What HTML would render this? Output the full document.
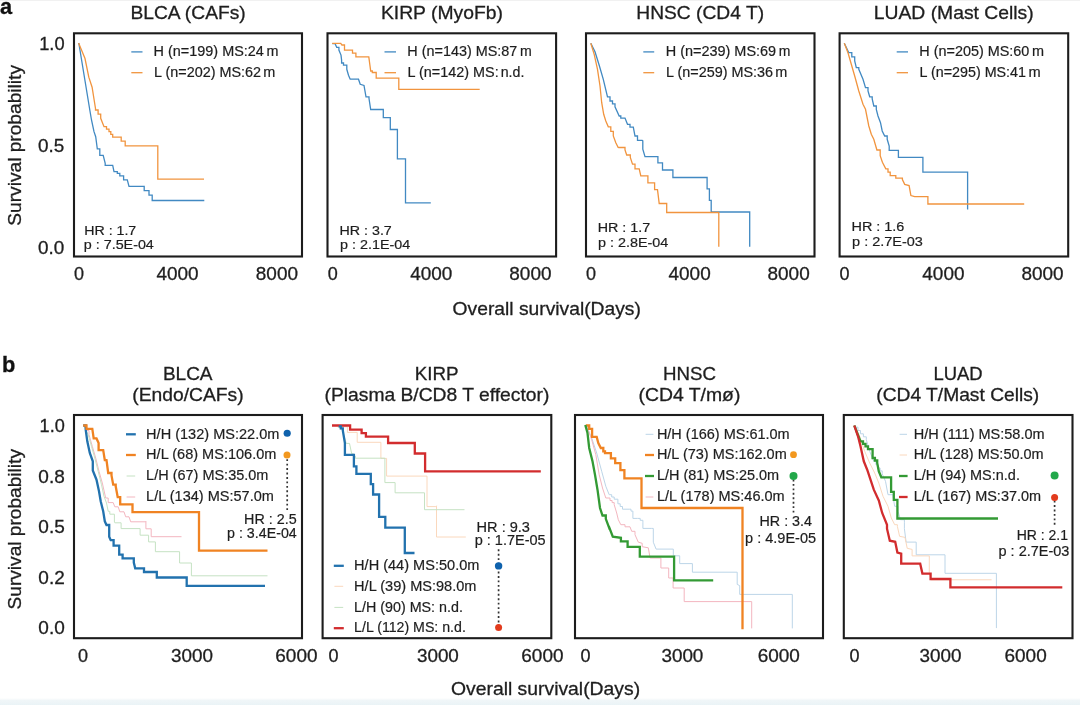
<!DOCTYPE html>
<html lang="en"><head><meta charset="utf-8"><title>Survival curves</title>
<style>
html,body{margin:0;padding:0;background:#fff}
body{width:1080px;height:705px;overflow:hidden}
svg{display:block;font-family:"Liberation Sans",Arial,Helvetica,sans-serif}
</style></head><body>
<svg width="1080" height="705" viewBox="0 0 1080 705">
<defs><linearGradient id="bg" x1="0" y1="0" x2="0" y2="1"><stop offset="0" stop-color="#ffffff"/><stop offset="0.35" stop-color="#f0f6f8"/><stop offset="1" stop-color="#eaf3f6"/></linearGradient></defs>
<rect x="0" y="0" width="1080" height="705" fill="#ffffff"/>
<rect x="0" y="0" width="1080" height="1" fill="#f1f1f1"/>
<rect x="0" y="698" width="1080" height="7" fill="url(#bg)"/>
<text x="0.10" y="13.60" font-size="21.50" textLength="12.11" lengthAdjust="spacingAndGlyphs" fill="#111" stroke="#111" stroke-width="0.3" font-weight="700">a</text>
<text x="2.10" y="372.00" font-size="21.50" textLength="13.32" lengthAdjust="spacingAndGlyphs" fill="#111" stroke="#111" stroke-width="0.3" font-weight="700">b</text>
<rect x="74.00" y="33.30" width="228.00" height="223.20" fill="none" stroke="#1c1c1c" stroke-width="2.1"/>
<rect x="327.50" y="33.30" width="228.60" height="223.20" fill="none" stroke="#1c1c1c" stroke-width="2.1"/>
<rect x="586.00" y="33.30" width="228.50" height="223.20" fill="none" stroke="#1c1c1c" stroke-width="2.1"/>
<rect x="839.60" y="33.30" width="228.60" height="223.20" fill="none" stroke="#1c1c1c" stroke-width="2.1"/>
<text x="130.40" y="18.60" font-size="18.60" textLength="115.32" lengthAdjust="spacingAndGlyphs" fill="#1e1e1e" stroke="#1e1e1e" stroke-width="0.3">BLCA (CAFs)</text>
<text x="380.90" y="18.60" font-size="18.60" textLength="122.02" lengthAdjust="spacingAndGlyphs" fill="#1e1e1e" stroke="#1e1e1e" stroke-width="0.3">KIRP (MyoFb)</text>
<text x="636.30" y="18.60" font-size="18.60" textLength="127.77" lengthAdjust="spacingAndGlyphs" fill="#1e1e1e" stroke="#1e1e1e" stroke-width="0.3">HNSC (CD4 T)</text>
<text x="873.80" y="18.60" font-size="18.60" textLength="159.88" lengthAdjust="spacingAndGlyphs" fill="#1e1e1e" stroke="#1e1e1e" stroke-width="0.3">LUAD (Mast Cells)</text>
<text x="74.00" y="280.00" font-size="18.60" textLength="10.02" lengthAdjust="spacingAndGlyphs" fill="#1e1e1e" stroke="#1e1e1e" stroke-width="0.3">0</text>
<text x="156.40" y="280.00" font-size="18.60" textLength="42.19" lengthAdjust="spacingAndGlyphs" fill="#1e1e1e" stroke="#1e1e1e" stroke-width="0.3">4000</text>
<text x="255.80" y="280.00" font-size="18.60" textLength="42.19" lengthAdjust="spacingAndGlyphs" fill="#1e1e1e" stroke="#1e1e1e" stroke-width="0.3">8000</text>
<text x="327.75" y="280.00" font-size="18.60" textLength="10.02" lengthAdjust="spacingAndGlyphs" fill="#1e1e1e" stroke="#1e1e1e" stroke-width="0.3">0</text>
<text x="410.15" y="280.00" font-size="18.60" textLength="42.19" lengthAdjust="spacingAndGlyphs" fill="#1e1e1e" stroke="#1e1e1e" stroke-width="0.3">4000</text>
<text x="509.30" y="280.00" font-size="18.60" textLength="42.19" lengthAdjust="spacingAndGlyphs" fill="#1e1e1e" stroke="#1e1e1e" stroke-width="0.3">8000</text>
<text x="585.90" y="280.00" font-size="18.60" textLength="10.02" lengthAdjust="spacingAndGlyphs" fill="#1e1e1e" stroke="#1e1e1e" stroke-width="0.3">0</text>
<text x="668.50" y="280.00" font-size="18.60" textLength="42.19" lengthAdjust="spacingAndGlyphs" fill="#1e1e1e" stroke="#1e1e1e" stroke-width="0.3">4000</text>
<text x="767.50" y="280.00" font-size="18.60" textLength="42.19" lengthAdjust="spacingAndGlyphs" fill="#1e1e1e" stroke="#1e1e1e" stroke-width="0.3">8000</text>
<text x="839.60" y="280.00" font-size="18.60" textLength="10.02" lengthAdjust="spacingAndGlyphs" fill="#1e1e1e" stroke="#1e1e1e" stroke-width="0.3">0</text>
<text x="922.30" y="280.00" font-size="18.60" textLength="42.19" lengthAdjust="spacingAndGlyphs" fill="#1e1e1e" stroke="#1e1e1e" stroke-width="0.3">4000</text>
<text x="1021.40" y="280.00" font-size="18.60" textLength="42.19" lengthAdjust="spacingAndGlyphs" fill="#1e1e1e" stroke="#1e1e1e" stroke-width="0.3">8000</text>
<text x="39.20" y="50.00" font-size="18.60" textLength="25.40" lengthAdjust="spacingAndGlyphs" fill="#1e1e1e" stroke="#1e1e1e" stroke-width="0.3">1.0</text>
<text x="38.10" y="151.90" font-size="18.60" textLength="26.30" lengthAdjust="spacingAndGlyphs" fill="#1e1e1e" stroke="#1e1e1e" stroke-width="0.3">0.5</text>
<text x="38.10" y="253.80" font-size="18.60" textLength="26.30" lengthAdjust="spacingAndGlyphs" fill="#1e1e1e" stroke="#1e1e1e" stroke-width="0.3">0.0</text>
<text x="21.50" y="225.70" font-size="18.60" textLength="160.66" lengthAdjust="spacingAndGlyphs" fill="#1e1e1e" stroke="#1e1e1e" stroke-width="0.3" transform="rotate(-90 21.50 225.70)">Survival probability</text>
<text x="21.40" y="609.40" font-size="18.60" textLength="160.36" lengthAdjust="spacingAndGlyphs" fill="#1e1e1e" stroke="#1e1e1e" stroke-width="0.3" transform="rotate(-90 21.40 609.40)">Survival probability</text>
<text x="452.60" y="315.00" font-size="18.60" textLength="188.29" lengthAdjust="spacingAndGlyphs" fill="#1e1e1e" stroke="#1e1e1e" stroke-width="0.3">Overall survival(Days)</text>
<text x="451.00" y="695.30" font-size="18.60" textLength="189.09" lengthAdjust="spacingAndGlyphs" fill="#1e1e1e" stroke="#1e1e1e" stroke-width="0.3">Overall survival(Days)</text>
<path d="M131.3 51.9 L142.5 51.9" fill="none" stroke="#4189c2" stroke-width="1.3" stroke-linejoin="miter" stroke-miterlimit="2" />
<path d="M131.3 72.7 L142.5 72.7" fill="none" stroke="#f1943e" stroke-width="1.3" stroke-linejoin="miter" stroke-miterlimit="2" />
<text y="56.35" font-size="14.20" fill="#1e1e1e" stroke="#1e1e1e" stroke-width="0.2"><tspan x="153.60" textLength="110.27" lengthAdjust="spacingAndGlyphs">H (n=199) MS:24</tspan> <tspan x="266.50" textLength="11.97" lengthAdjust="spacingAndGlyphs">m</tspan></text>
<text y="77.10" font-size="14.20" fill="#1e1e1e" stroke="#1e1e1e" stroke-width="0.2"><tspan x="154.00" textLength="107.00" lengthAdjust="spacingAndGlyphs">L (n=202) MS:62</tspan> <tspan x="263.35" textLength="12.02" lengthAdjust="spacingAndGlyphs">m</tspan></text>
<path d="M384.5 51.9 L396.0 51.9" fill="none" stroke="#4189c2" stroke-width="1.3" stroke-linejoin="miter" stroke-miterlimit="2" />
<path d="M384.5 72.7 L396.0 72.7" fill="none" stroke="#f1943e" stroke-width="1.3" stroke-linejoin="miter" stroke-miterlimit="2" />
<text y="56.35" font-size="14.20" fill="#1e1e1e" stroke="#1e1e1e" stroke-width="0.2"><tspan x="407.35" textLength="110.02" lengthAdjust="spacingAndGlyphs">H (n=143) MS:87</tspan> <tspan x="520.10" textLength="11.77" lengthAdjust="spacingAndGlyphs">m</tspan></text>
<text y="77.10" font-size="14.20" fill="#1e1e1e" stroke="#1e1e1e" stroke-width="0.2"><tspan x="407.60" textLength="91.08" lengthAdjust="spacingAndGlyphs">L (n=142) MS:</tspan> <tspan x="500.70" textLength="23.67" lengthAdjust="spacingAndGlyphs">n.d.</tspan></text>
<path d="M643.3 51.9 L654.2 51.9" fill="none" stroke="#4189c2" stroke-width="1.3" stroke-linejoin="miter" stroke-miterlimit="2" />
<path d="M643.3 72.7 L654.2 72.7" fill="none" stroke="#f1943e" stroke-width="1.3" stroke-linejoin="miter" stroke-miterlimit="2" />
<text y="56.35" font-size="14.20" fill="#1e1e1e" stroke="#1e1e1e" stroke-width="0.2"><tspan x="665.70" textLength="110.42" lengthAdjust="spacingAndGlyphs">H (n=239) MS:69</tspan> <tspan x="778.85" textLength="11.62" lengthAdjust="spacingAndGlyphs">m</tspan></text>
<text y="77.10" font-size="14.20" fill="#1e1e1e" stroke="#1e1e1e" stroke-width="0.2"><tspan x="666.00" textLength="107.00" lengthAdjust="spacingAndGlyphs">L (n=259) MS:36</tspan> <tspan x="775.35" textLength="12.02" lengthAdjust="spacingAndGlyphs">m</tspan></text>
<path d="M896.7 51.9 L908.0 51.9" fill="none" stroke="#4189c2" stroke-width="1.3" stroke-linejoin="miter" stroke-miterlimit="2" />
<path d="M896.7 72.7 L908.0 72.7" fill="none" stroke="#f1943e" stroke-width="1.3" stroke-linejoin="miter" stroke-miterlimit="2" />
<text y="56.35" font-size="14.20" fill="#1e1e1e" stroke="#1e1e1e" stroke-width="0.2"><tspan x="919.35" textLength="110.02" lengthAdjust="spacingAndGlyphs">H (n=205) MS:60</tspan> <tspan x="1032.10" textLength="12.02" lengthAdjust="spacingAndGlyphs">m</tspan></text>
<text y="77.10" font-size="14.20" fill="#1e1e1e" stroke="#1e1e1e" stroke-width="0.2"><tspan x="919.60" textLength="106.40" lengthAdjust="spacingAndGlyphs">L (n=295) MS:41</tspan> <tspan x="1028.60" textLength="12.17" lengthAdjust="spacingAndGlyphs">m</tspan></text>
<text x="84.20" y="235.40" font-size="13.40" textLength="52.07" lengthAdjust="spacingAndGlyphs" fill="#1e1e1e" stroke="#1e1e1e" stroke-width="0.2">HR : 1.7</text>
<text x="83.85" y="249.00" font-size="13.40" textLength="69.98" lengthAdjust="spacingAndGlyphs" fill="#1e1e1e" stroke="#1e1e1e" stroke-width="0.2">p : 7.5E-04</text>
<text x="339.50" y="235.00" font-size="13.40" textLength="52.27" lengthAdjust="spacingAndGlyphs" fill="#1e1e1e" stroke="#1e1e1e" stroke-width="0.2">HR : 3.7</text>
<text x="340.10" y="249.40" font-size="13.40" textLength="70.08" lengthAdjust="spacingAndGlyphs" fill="#1e1e1e" stroke="#1e1e1e" stroke-width="0.2">p : 2.1E-04</text>
<text x="597.70" y="231.50" font-size="13.40" textLength="52.42" lengthAdjust="spacingAndGlyphs" fill="#1e1e1e" stroke="#1e1e1e" stroke-width="0.2">HR : 1.7</text>
<text x="598.10" y="247.10" font-size="13.40" textLength="70.23" lengthAdjust="spacingAndGlyphs" fill="#1e1e1e" stroke="#1e1e1e" stroke-width="0.2">p : 2.8E-04</text>
<text x="851.50" y="231.25" font-size="13.40" textLength="52.87" lengthAdjust="spacingAndGlyphs" fill="#1e1e1e" stroke="#1e1e1e" stroke-width="0.2">HR : 1.6</text>
<text x="852.10" y="246.25" font-size="13.40" textLength="70.83" lengthAdjust="spacingAndGlyphs" fill="#1e1e1e" stroke="#1e1e1e" stroke-width="0.2">p : 2.7E-03</text>
<path d="M78.8 43.0 L89.8 110.0 L91.5 120.0 L94.0 131.7 L95.7 136.7 L97.3 148.8 L99.8 148.8 L99.8 155.4 L103.2 155.4 L105.2 163.3 L105.2 165.3 L112.7 165.3 L114.0 171.7 L117.3 171.7 L117.3 173.3 L119.8 173.3 L119.8 175.8 L123.6 175.8 L123.6 177.5 L123.6 179.8 L127.3 179.8 L129.0 186.3 L144.2 186.3 L144.2 190.7 L149.0 190.7 L149.0 195.2 L152.2 195.2 L152.2 200.5 L204.3 200.5" fill="none" stroke="#4189c2" stroke-width="1.3" stroke-linejoin="miter" stroke-miterlimit="2" />
<path d="M332.3 43.6 L335.0 43.6 L336.7 47.3 L338.9 47.3 L338.9 50.1 L341.0 55.1 L341.6 60.1 L341.6 63.0 L343.5 63.0 L343.5 65.2 L346.8 65.2 L346.8 69.3 L348.5 75.2 L350.2 79.2 L358.5 79.2 L360.2 84.3 L364.0 85.5 L366.0 96.8 L369.0 96.8 L369.0 98.5 L370.7 109.5 L383.3 109.5 L383.3 117.7 L390.3 117.7 L390.3 129.5 L397.4 129.5 L397.4 158.8 L405.5 158.8 L405.5 202.8 L430.8 202.8" fill="none" stroke="#4189c2" stroke-width="1.3" stroke-linejoin="miter" stroke-miterlimit="2" />
<path d="M590.8 43.2 L595.0 51.8 L599.2 65.2 L603.3 79.3 L607.5 96.8 L610.0 96.8 L610.0 101.0 L612.5 101.0 L612.5 103.9 L615.0 103.9 L615.0 106.8 L619.2 116.0 L620.8 116.0 L620.8 118.1 L625.0 118.1 L627.5 124.3 L630.0 124.3 L630.0 127.2 L633.3 127.2 L635.0 136.0 L637.5 136.0 L637.5 140.4 L642.2 140.4 L642.8 140.8 L642.8 149.2 L645.0 156.7 L657.9 156.7 L657.9 162.8 L662.5 162.8 L662.5 170.0 L672.9 170.0 L672.9 177.5 L707.1 177.5 L707.1 188.8 L709.4 188.8 L709.4 200.4 L711.2 200.4 L711.2 212.0 L749.7 212.0 L749.7 246.7" fill="none" stroke="#4189c2" stroke-width="1.3" stroke-linejoin="miter" stroke-miterlimit="2" />
<path d="M844.3 43.2 L848.8 52.7 L851.8 52.7 L851.8 56.8 L854.7 56.8 L854.7 61.0 L856.3 67.7 L858.8 67.7 L858.8 69.3 L863.0 79.3 L865.5 87.7 L868.0 87.7 L868.0 91.0 L869.7 96.8 L872.2 96.8 L872.2 99.0 L873.8 106.0 L876.3 106.0 L876.3 109.3 L878.0 116.0 L880.5 122.7 L882.2 131.0 L884.7 136.0 L887.2 136.0 L887.2 139.3 L889.2 146.0 L889.2 150.4 L898.4 150.4 L898.4 157.3 L922.9 157.3 L922.9 172.2 L967.6 172.2 L967.6 209.6" fill="none" stroke="#4189c2" stroke-width="1.3" stroke-linejoin="miter" stroke-miterlimit="2" />
<path d="M78.6 42.9 L85.0 58.5 L88.8 77.2 L92.1 87.2 L95.5 108.5 L95.5 110.0 L98.1 110.0 L98.1 114.2 L100.7 114.2 L100.7 118.3 L104.0 126.7 L106.5 126.7 L106.5 129.2 L109.0 129.2 L109.0 131.7 L110.8 131.7 L110.8 134.4 L112.7 134.4 L112.7 137.2 L121.2 137.2 L121.2 141.2 L125.2 141.2 L125.2 145.8 L157.8 145.8 L157.8 179.2 L204.0 179.2" fill="none" stroke="#f1943e" stroke-width="1.3" stroke-linejoin="miter" stroke-miterlimit="2" />
<path d="M332.2 43.4 L340.8 43.4 L341.9 45.0 L344.5 45.0 L344.5 50.2 L352.5 50.2 L352.5 53.1 L355.9 53.1 L355.9 56.8 L368.8 56.8 L370.7 71.0 L372.3 71.0 L372.3 72.5 L376.2 72.5 L376.2 78.2 L398.8 78.2 L398.8 89.3 L479.7 89.3" fill="none" stroke="#f1943e" stroke-width="1.3" stroke-linejoin="miter" stroke-miterlimit="2" />
<path d="M590.8 43.2 L594.2 54.3 L597.5 69.3 L600.0 86.0 L601.7 102.7 L603.7 114.3 L605.8 121.0 L608.3 126.8 L610.8 126.8 L610.8 131.4 L613.3 131.4 L613.3 136.0 L615.8 142.7 L618.3 147.7 L618.3 147.5 L625.0 147.5 L625.0 150.0 L626.7 155.0 L630.3 155.0 L630.3 157.5 L632.5 164.2 L635.0 164.2 L635.0 168.8 L639.2 168.8 L640.8 175.9 L647.9 175.9 L647.9 182.8 L654.6 182.8 L654.6 189.6 L657.5 189.6 L659.2 203.5 L666.7 203.5 L666.7 212.5 L718.8 212.5 L718.8 246.7" fill="none" stroke="#f1943e" stroke-width="1.3" stroke-linejoin="miter" stroke-miterlimit="2" />
<path d="M844.3 43.2 L848.0 52.7 L851.3 64.3 L854.7 76.0 L858.8 91.0 L863.0 104.3 L865.5 109.3 L868.8 126.0 L871.3 134.3 L873.8 139.3 L876.9 150.0 L880.2 150.0 L880.2 155.6 L882.4 162.2 L885.8 168.9 L888.0 168.9 L888.0 172.2 L890.2 172.2 L890.2 175.6 L895.8 175.6 L895.8 178.2 L902.4 178.2 L902.4 179.6 L904.7 184.4 L909.1 185.6 L910.9 195.6 L914.7 196.7 L927.9 196.7 L927.9 204.0 L1024.2 204.0" fill="none" stroke="#f1943e" stroke-width="1.3" stroke-linejoin="miter" stroke-miterlimit="2" />
<rect x="74.00" y="415.00" width="228.00" height="223.20" fill="none" stroke="#1c1c1c" stroke-width="2.1"/>
<rect x="322.60" y="415.00" width="228.70" height="223.20" fill="none" stroke="#1c1c1c" stroke-width="2.1"/>
<rect x="575.00" y="415.00" width="248.00" height="223.20" fill="none" stroke="#1c1c1c" stroke-width="2.1"/>
<rect x="843.80" y="415.00" width="228.70" height="223.20" fill="none" stroke="#1c1c1c" stroke-width="2.1"/>
<text x="162.90" y="379.70" font-size="18.60" textLength="49.65" lengthAdjust="spacingAndGlyphs" fill="#1e1e1e" stroke="#1e1e1e" stroke-width="0.3">BLCA</text>
<text x="132.30" y="400.80" font-size="18.60" textLength="111.39" lengthAdjust="spacingAndGlyphs" fill="#1e1e1e" stroke="#1e1e1e" stroke-width="0.3">(Endo/CAFs)</text>
<text x="414.70" y="379.70" font-size="18.60" textLength="43.88" lengthAdjust="spacingAndGlyphs" fill="#1e1e1e" stroke="#1e1e1e" stroke-width="0.3">KIRP</text>
<text x="324.50" y="400.80" font-size="18.60" textLength="224.82" lengthAdjust="spacingAndGlyphs" fill="#1e1e1e" stroke="#1e1e1e" stroke-width="0.3">(Plasma B/CD8 T effector)</text>
<text x="662.90" y="379.70" font-size="18.60" textLength="53.07" lengthAdjust="spacingAndGlyphs" fill="#1e1e1e" stroke="#1e1e1e" stroke-width="0.3">HNSC</text>
<text x="638.50" y="400.80" font-size="18.60" textLength="101.88" lengthAdjust="spacingAndGlyphs" fill="#1e1e1e" stroke="#1e1e1e" stroke-width="0.3">(CD4 T/mø)</text>
<text x="933.40" y="379.70" font-size="18.60" textLength="49.16" lengthAdjust="spacingAndGlyphs" fill="#1e1e1e" stroke="#1e1e1e" stroke-width="0.3">LUAD</text>
<text x="876.30" y="400.80" font-size="18.60" textLength="162.95" lengthAdjust="spacingAndGlyphs" fill="#1e1e1e" stroke="#1e1e1e" stroke-width="0.3">(CD4 T/Mast Cells)</text>
<text x="78.10" y="662.20" font-size="18.60" textLength="10.02" lengthAdjust="spacingAndGlyphs" fill="#1e1e1e" stroke="#1e1e1e" stroke-width="0.3">0</text>
<text x="171.10" y="662.20" font-size="18.60" textLength="41.99" lengthAdjust="spacingAndGlyphs" fill="#1e1e1e" stroke="#1e1e1e" stroke-width="0.3">3000</text>
<text x="275.30" y="662.20" font-size="18.60" textLength="42.19" lengthAdjust="spacingAndGlyphs" fill="#1e1e1e" stroke="#1e1e1e" stroke-width="0.3">6000</text>
<text x="328.40" y="662.20" font-size="18.60" textLength="10.02" lengthAdjust="spacingAndGlyphs" fill="#1e1e1e" stroke="#1e1e1e" stroke-width="0.3">0</text>
<text x="416.90" y="662.20" font-size="18.60" textLength="41.99" lengthAdjust="spacingAndGlyphs" fill="#1e1e1e" stroke="#1e1e1e" stroke-width="0.3">3000</text>
<text x="521.30" y="662.20" font-size="18.60" textLength="42.19" lengthAdjust="spacingAndGlyphs" fill="#1e1e1e" stroke="#1e1e1e" stroke-width="0.3">6000</text>
<text x="580.40" y="662.20" font-size="18.60" textLength="10.02" lengthAdjust="spacingAndGlyphs" fill="#1e1e1e" stroke="#1e1e1e" stroke-width="0.3">0</text>
<text x="661.40" y="662.20" font-size="18.60" textLength="41.99" lengthAdjust="spacingAndGlyphs" fill="#1e1e1e" stroke="#1e1e1e" stroke-width="0.3">3000</text>
<text x="757.65" y="662.20" font-size="18.60" textLength="42.19" lengthAdjust="spacingAndGlyphs" fill="#1e1e1e" stroke="#1e1e1e" stroke-width="0.3">6000</text>
<text x="849.60" y="662.20" font-size="18.60" textLength="10.02" lengthAdjust="spacingAndGlyphs" fill="#1e1e1e" stroke="#1e1e1e" stroke-width="0.3">0</text>
<text x="919.60" y="662.20" font-size="18.60" textLength="41.99" lengthAdjust="spacingAndGlyphs" fill="#1e1e1e" stroke="#1e1e1e" stroke-width="0.3">3000</text>
<text x="1004.50" y="662.20" font-size="18.60" textLength="42.19" lengthAdjust="spacingAndGlyphs" fill="#1e1e1e" stroke="#1e1e1e" stroke-width="0.3">6000</text>
<text x="39.60" y="431.90" font-size="18.60" textLength="25.20" lengthAdjust="spacingAndGlyphs" fill="#1e1e1e" stroke="#1e1e1e" stroke-width="0.3">1.0</text>
<text x="38.35" y="482.50" font-size="18.60" textLength="26.45" lengthAdjust="spacingAndGlyphs" fill="#1e1e1e" stroke="#1e1e1e" stroke-width="0.3">0.8</text>
<text x="38.35" y="533.10" font-size="18.60" textLength="26.45" lengthAdjust="spacingAndGlyphs" fill="#1e1e1e" stroke="#1e1e1e" stroke-width="0.3">0.5</text>
<text x="38.35" y="583.70" font-size="18.60" textLength="26.45" lengthAdjust="spacingAndGlyphs" fill="#1e1e1e" stroke="#1e1e1e" stroke-width="0.3">0.2</text>
<text x="38.35" y="634.30" font-size="18.60" textLength="26.45" lengthAdjust="spacingAndGlyphs" fill="#1e1e1e" stroke="#1e1e1e" stroke-width="0.3">0.0</text>
<path d="M126.0 434.3 L135.8 434.3" fill="none" stroke="#2272ae" stroke-width="2.3" stroke-linejoin="miter" stroke-miterlimit="2" />
<text x="146.10" y="438.55" font-size="14.40" textLength="133.30" lengthAdjust="spacingAndGlyphs" fill="#1e1e1e" stroke="#1e1e1e" stroke-width="0.2">H/H (132) MS:22.0m</text>
<path d="M126.0 455.0 L135.8 455.0" fill="none" stroke="#f08322" stroke-width="2.3" stroke-linejoin="miter" stroke-miterlimit="2" />
<text x="146.10" y="459.25" font-size="14.40" textLength="130.32" lengthAdjust="spacingAndGlyphs" fill="#1e1e1e" stroke="#1e1e1e" stroke-width="0.2">H/L (68) MS:106.0m</text>
<path d="M126.6 476.0 L135.2 476.0" fill="none" stroke="#c5e2c3" stroke-width="1.0" stroke-linejoin="miter" stroke-miterlimit="2" />
<text x="146.10" y="480.25" font-size="14.40" textLength="122.26" lengthAdjust="spacingAndGlyphs" fill="#1e1e1e" stroke="#1e1e1e" stroke-width="0.2">L/H (67) MS:35.0m</text>
<path d="M126.6 497.0 L135.2 497.0" fill="none" stroke="#f3b6bf" stroke-width="1.0" stroke-linejoin="miter" stroke-miterlimit="2" />
<text x="146.10" y="501.25" font-size="14.40" textLength="127.81" lengthAdjust="spacingAndGlyphs" fill="#1e1e1e" stroke="#1e1e1e" stroke-width="0.2">L/L (134) MS:57.0m</text>
<path d="M333.8 565.8 L343.8 565.8" fill="none" stroke="#2272ae" stroke-width="2.3" stroke-linejoin="miter" stroke-miterlimit="2" />
<text x="354.10" y="570.05" font-size="14.40" textLength="125.28" lengthAdjust="spacingAndGlyphs" fill="#1e1e1e" stroke="#1e1e1e" stroke-width="0.2">H/H (44) MS:50.0m</text>
<path d="M334.4 586.3 L343.2 586.3" fill="none" stroke="#fad8bd" stroke-width="1.0" stroke-linejoin="miter" stroke-miterlimit="2" />
<text x="354.10" y="590.55" font-size="14.40" textLength="122.31" lengthAdjust="spacingAndGlyphs" fill="#1e1e1e" stroke="#1e1e1e" stroke-width="0.2">H/L (39) MS:98.0m</text>
<path d="M334.4 607.4 L343.2 607.4" fill="none" stroke="#c5e2c3" stroke-width="1.0" stroke-linejoin="miter" stroke-miterlimit="2" />
<text x="354.10" y="611.65" font-size="14.40" textLength="108.78" lengthAdjust="spacingAndGlyphs" fill="#1e1e1e" stroke="#1e1e1e" stroke-width="0.2">L/H (90) MS: n.d.</text>
<path d="M333.8 628.2 L343.8 628.2" fill="none" stroke="#d22c2e" stroke-width="2.3" stroke-linejoin="miter" stroke-miterlimit="2" />
<text x="354.10" y="632.45" font-size="14.40" textLength="111.77" lengthAdjust="spacingAndGlyphs" fill="#1e1e1e" stroke="#1e1e1e" stroke-width="0.2">L/L (112) MS: n.d.</text>
<path d="M645.6 434.3 L653.4 434.3" fill="none" stroke="#bcd5e8" stroke-width="1.0" stroke-linejoin="miter" stroke-miterlimit="2" />
<text x="656.90" y="438.55" font-size="14.40" textLength="132.80" lengthAdjust="spacingAndGlyphs" fill="#1e1e1e" stroke="#1e1e1e" stroke-width="0.2">H/H (166) MS:61.0m</text>
<path d="M645.0 455.0 L654.0 455.0" fill="none" stroke="#f08322" stroke-width="2.3" stroke-linejoin="miter" stroke-miterlimit="2" />
<text x="656.90" y="459.25" font-size="14.40" textLength="129.82" lengthAdjust="spacingAndGlyphs" fill="#1e1e1e" stroke="#1e1e1e" stroke-width="0.2">H/L (73) MS:162.0m</text>
<path d="M645.0 476.0 L654.0 476.0" fill="none" stroke="#339a34" stroke-width="2.3" stroke-linejoin="miter" stroke-miterlimit="2" />
<text x="656.90" y="480.25" font-size="14.40" textLength="122.26" lengthAdjust="spacingAndGlyphs" fill="#1e1e1e" stroke="#1e1e1e" stroke-width="0.2">L/H (81) MS:25.0m</text>
<path d="M645.6 497.0 L653.4 497.0" fill="none" stroke="#f3b6bf" stroke-width="1.0" stroke-linejoin="miter" stroke-miterlimit="2" />
<text x="656.90" y="501.25" font-size="14.40" textLength="127.81" lengthAdjust="spacingAndGlyphs" fill="#1e1e1e" stroke="#1e1e1e" stroke-width="0.2">L/L (178) MS:46.0m</text>
<path d="M899.6 434.3 L907.0 434.3" fill="none" stroke="#bcd5e8" stroke-width="1.0" stroke-linejoin="miter" stroke-miterlimit="2" />
<text x="913.80" y="438.55" font-size="14.40" textLength="130.82" lengthAdjust="spacingAndGlyphs" fill="#1e1e1e" stroke="#1e1e1e" stroke-width="0.2">H/H (111) MS:58.0m</text>
<path d="M899.6 455.0 L907.0 455.0" fill="none" stroke="#fad8bd" stroke-width="1.0" stroke-linejoin="miter" stroke-miterlimit="2" />
<text x="913.80" y="459.25" font-size="14.40" textLength="129.82" lengthAdjust="spacingAndGlyphs" fill="#1e1e1e" stroke="#1e1e1e" stroke-width="0.2">H/L (128) MS:50.0m</text>
<path d="M899.0 476.0 L907.6 476.0" fill="none" stroke="#339a34" stroke-width="2.3" stroke-linejoin="miter" stroke-miterlimit="2" />
<text x="913.80" y="480.25" font-size="14.40" textLength="106.12" lengthAdjust="spacingAndGlyphs" fill="#1e1e1e" stroke="#1e1e1e" stroke-width="0.2">L/H (94) MS:n.d.</text>
<path d="M899.0 497.0 L907.6 497.0" fill="none" stroke="#d22c2e" stroke-width="2.3" stroke-linejoin="miter" stroke-miterlimit="2" />
<text x="913.80" y="501.25" font-size="14.40" textLength="127.31" lengthAdjust="spacingAndGlyphs" fill="#1e1e1e" stroke="#1e1e1e" stroke-width="0.2">L/L (167) MS:37.0m</text>
<line x1="287.20" y1="459.20" x2="287.20" y2="510.20" stroke="#333" stroke-width="1.7" stroke-dasharray="1.9 2.55"/>
<circle cx="287.20" cy="433.25" r="3.60" fill="#0f62ad"/>
<circle cx="287.00" cy="455.00" r="3.50" fill="#f2981f"/>
<text x="244.10" y="523.70" font-size="14.20" textLength="52.57" lengthAdjust="spacingAndGlyphs" fill="#1e1e1e" stroke="#1e1e1e" stroke-width="0.2">HR : 2.5</text>
<text x="227.10" y="537.50" font-size="14.20" textLength="69.63" lengthAdjust="spacingAndGlyphs" fill="#1e1e1e" stroke="#1e1e1e" stroke-width="0.2">p : 3.4E-04</text>
<line x1="498.60" y1="549.30" x2="498.60" y2="627.00" stroke="#333" stroke-width="1.7" stroke-dasharray="1.9 2.55"/>
<circle cx="498.60" cy="565.90" r="3.70" fill="#0f62ad"/>
<circle cx="498.60" cy="627.50" r="3.50" fill="#e23b1d"/>
<text x="476.60" y="531.90" font-size="14.20" textLength="53.37" lengthAdjust="spacingAndGlyphs" fill="#1e1e1e" stroke="#1e1e1e" stroke-width="0.2">HR : 9.3</text>
<text x="474.70" y="545.40" font-size="14.20" textLength="70.93" lengthAdjust="spacingAndGlyphs" fill="#1e1e1e" stroke="#1e1e1e" stroke-width="0.2">p : 1.7E-05</text>
<line x1="793.50" y1="479.50" x2="793.50" y2="512.80" stroke="#333" stroke-width="1.7" stroke-dasharray="1.9 2.55"/>
<circle cx="793.50" cy="454.70" r="3.40" fill="#f2981f"/>
<circle cx="793.50" cy="475.90" r="4.00" fill="#22a84a"/>
<text x="759.50" y="526.40" font-size="14.20" textLength="52.47" lengthAdjust="spacingAndGlyphs" fill="#1e1e1e" stroke="#1e1e1e" stroke-width="0.2">HR : 3.4</text>
<text x="745.10" y="542.50" font-size="14.20" textLength="70.93" lengthAdjust="spacingAndGlyphs" fill="#1e1e1e" stroke="#1e1e1e" stroke-width="0.2">p : 4.9E-05</text>
<line x1="1054.60" y1="500.60" x2="1054.60" y2="525.20" stroke="#333" stroke-width="1.7" stroke-dasharray="1.9 2.55"/>
<circle cx="1054.60" cy="475.60" r="4.00" fill="#22a84a"/>
<circle cx="1054.60" cy="497.60" r="3.50" fill="#e23b1d"/>
<text x="1016.70" y="540.20" font-size="14.20" textLength="51.37" lengthAdjust="spacingAndGlyphs" fill="#1e1e1e" stroke="#1e1e1e" stroke-width="0.2">HR : 2.1</text>
<text x="998.50" y="555.90" font-size="14.20" textLength="70.93" lengthAdjust="spacingAndGlyphs" fill="#1e1e1e" stroke="#1e1e1e" stroke-width="0.2">p : 2.7E-03</text>
<path d="M84.0 426.3 L86.5 426.3 L86.5 430.5 L89.0 430.5 L89.0 434.7 L92.3 446.3 L95.7 458.0 L99.0 471.3 L102.3 483.0 L105.7 498.0 L108.2 498.0 L108.2 502.6 L113.2 502.6 L114.8 506.8 L118.2 506.8 L119.8 511.8 L124.0 511.8 L125.7 516.8 L129.0 516.8 L130.7 521.8 L145.7 521.8 L145.9 521.3 L145.9 528.8 L151.2 528.8 L151.2 536.7 L181.5 536.7" fill="none" stroke="#f3b6bf" stroke-width="1.0" stroke-linejoin="miter" stroke-miterlimit="2" />
<path d="M84.0 426.3 L88.2 434.7 L91.5 446.3 L94.8 458.0 L98.2 471.3 L101.5 484.7 L104.0 496.3 L106.5 503.0 L108.2 511.3 L109.8 511.3 L109.8 514.2 L114.4 514.2 L114.4 522.2 L114.8 522.8 L121.1 522.8 L121.1 528.6 L140.1 528.6 L140.1 535.2 L148.6 535.2 L148.6 541.9 L155.4 541.9 L155.4 551.7 L179.6 551.7 L179.6 563.0 L191.4 563.0 L191.4 575.8 L267.5 575.8" fill="none" stroke="#c5e2c3" stroke-width="1.0" stroke-linejoin="miter" stroke-miterlimit="2" />
<path d="M83.2 425.5 L85.7 425.5 L85.7 429.7 L87.3 441.3 L89.8 453.0 L92.8 461.3 L92.8 470.5 L96.5 479.7 L99.0 491.3 L100.7 501.3 L103.2 511.3 L104.8 521.3 L106.5 525.0 L109.2 525.0 L109.2 528.3 L109.2 536.7 L110.7 540.2 L113.6 540.2 L113.6 545.7 L119.2 545.7 L119.2 554.6 L122.6 554.6 L122.6 558.3 L133.8 558.3 L133.8 562.5 L135.2 568.3 L144.0 568.3 L144.0 572.0 L156.8 572.0 L156.8 577.5 L186.7 577.5 L186.7 585.8 L265.0 585.8" fill="none" stroke="#2272ae" stroke-width="2.3" stroke-linejoin="miter" stroke-miterlimit="2" />
<path d="M83.2 425.5 L86.5 425.5 L86.5 428.8 L92.3 428.8 L93.7 438.4 L96.5 438.4 L98.6 443.0 L98.6 450.1 L103.2 450.1 L104.8 460.1 L106.5 460.1 L108.2 473.0 L111.5 473.0 L111.5 475.5 L113.2 484.7 L115.7 484.7 L115.7 486.3 L117.7 497.2 L120.2 497.2 L120.2 499.7 L120.2 504.3 L132.5 504.3 L132.5 512.2 L199.0 512.2 L199.0 550.6 L267.5 550.6" fill="none" stroke="#f08322" stroke-width="2.3" stroke-linejoin="miter" stroke-miterlimit="2" />
<path d="M338.7 426.8 L347.4 426.8 L347.4 432.4 L357.2 432.4 L357.2 442.3 L380.9 442.3 L380.9 458.4 L386.6 458.4 L386.6 476.1 L427.0 476.1 L427.0 506.6 L435.8 506.6 L436.5 505.8 L436.5 537.0 L465.8 537.0" fill="none" stroke="#fad8bd" stroke-width="1.0" stroke-linejoin="miter" stroke-miterlimit="2" />
<path d="M337.8 427.2 L340.3 427.2 L340.3 429.2 L342.8 429.2 L342.8 431.3 L346.2 443.4 L349.5 443.4 L351.7 453.8 L353.5 453.8 L353.5 456.0 L355.3 456.0 L355.3 458.2 L384.9 458.2 L384.9 482.6 L395.1 482.6 L395.1 492.8 L424.5 492.8 L424.5 509.7 L464.5 509.7" fill="none" stroke="#c5e2c3" stroke-width="1.0" stroke-linejoin="miter" stroke-miterlimit="2" />
<path d="M332.0 425.5 L350.1 425.5 L350.1 429.7 L361.6 429.7 L361.6 433.2 L365.9 433.2 L365.9 436.7 L388.1 436.7 L388.1 443.0 L414.8 443.0 L414.8 453.5 L425.1 453.5 L425.1 471.3 L540.8 471.3" fill="none" stroke="#d22c2e" stroke-width="2.3" stroke-linejoin="miter" stroke-miterlimit="2" />
<path d="M338.7 426.3 L340.8 426.3 L340.8 428.4 L342.8 428.4 L342.8 430.5 L344.9 443.0 L344.9 454.8 L353.9 454.8 L353.9 466.3 L356.4 466.3 L356.4 468.0 L356.4 473.8 L370.8 473.8 L370.8 484.2 L373.1 484.2 L373.1 494.5 L379.1 494.5 L379.1 516.8 L385.3 516.8 L385.3 527.7 L404.8 527.7 L404.8 553.0 L414.5 553.0" fill="none" stroke="#2272ae" stroke-width="2.3" stroke-linejoin="miter" stroke-miterlimit="2" />
<path d="M586.7 426.3 L591.7 438.0 L596.7 453.0 L601.7 471.3 L605.8 486.3 L609.2 494.7 L611.7 494.7 L611.7 497.0 L614.2 497.0 L614.2 499.2 L617.9 499.2 L617.9 503.8 L620.2 503.8 L620.2 506.5 L622.5 506.5 L622.5 509.2 L629.2 509.2 L631.0 509.2 L631.0 511.1 L632.9 511.1 L632.9 513.0 L632.9 518.4 L637.5 518.4 L640.2 518.4 L640.2 520.3 L642.9 520.3 L642.9 522.2 L642.9 528.4 L651.7 528.4 L653.3 528.4 L653.3 530.0 L653.3 542.2 L656.1 549.1 L673.3 549.1 L673.3 555.8 L679.7 555.8 L679.7 563.6 L692.4 563.6 L692.4 572.2 L737.2 572.2 L737.2 584.4 L739.7 585.6 L739.7 594.4 L792.3 594.4 L792.3 628.4" fill="none" stroke="#bcd5e8" stroke-width="1.0" stroke-linejoin="miter" stroke-miterlimit="2" />
<path d="M586.7 426.3 L591.7 439.7 L595.8 454.7 L599.2 474.7 L602.5 488.0 L605.8 498.0 L610.0 498.0 L610.0 500.5 L612.1 500.5 L612.1 502.6 L614.2 502.6 L614.2 504.7 L616.7 513.0 L618.3 519.7 L620.8 524.7 L625.0 524.7 L625.0 526.8 L630.0 526.8 L631.7 531.3 L635.0 531.3 L635.0 534.7 L638.3 542.2 L642.2 543.3 L642.2 546.7 L648.3 547.8 L650.1 558.0 L660.9 558.0 L660.9 568.0 L668.7 568.0 L668.7 578.0 L673.1 578.0 L673.1 588.0 L684.2 588.0 L684.2 601.6 L751.7 601.6 L751.7 628.4" fill="none" stroke="#f3b6bf" stroke-width="1.0" stroke-linejoin="miter" stroke-miterlimit="2" />
<path d="M585.8 425.5 L589.2 425.5 L589.2 428.8 L592.1 428.8 L592.1 433.0 L592.1 436.9 L596.7 436.9 L598.3 443.0 L600.8 448.0 L603.3 448.0 L603.3 451.3 L605.0 451.3 L605.0 453.2 L610.9 453.2 L610.9 458.4 L615.2 458.4 L615.2 463.2 L620.4 463.2 L620.4 470.1 L624.4 470.1 L624.4 478.3 L641.5 478.3 L641.5 508.0 L742.5 508.0 L742.5 629.3" fill="none" stroke="#f08322" stroke-width="2.3" stroke-linejoin="miter" stroke-miterlimit="2" />
<path d="M585.3 425.0 L587.5 433.0 L589.2 448.0 L592.5 461.3 L595.0 474.7 L597.5 489.7 L600.0 508.0 L602.5 515.5 L605.8 515.5 L605.8 518.8 L609.2 528.0 L609.4 527.8 L612.8 536.7 L620.9 537.8 L620.9 541.4 L627.6 541.4 L627.6 546.9 L639.8 546.9 L639.8 556.7 L674.1 556.7 L674.1 580.4 L713.2 580.4" fill="none" stroke="#339a34" stroke-width="2.3" stroke-linejoin="miter" stroke-miterlimit="2" />
<path d="M855.5 427.2 L858.0 427.2 L858.0 430.5 L860.5 430.5 L860.5 433.8 L863.4 433.8 L863.4 436.8 L866.3 436.8 L866.3 439.7 L869.7 451.3 L873.8 461.3 L875.9 461.3 L875.9 464.7 L878.0 464.7 L878.0 468.0 L880.1 468.0 L880.1 470.9 L882.2 470.9 L882.2 473.8 L885.5 481.3 L888.0 494.7 L893.0 494.7 L893.0 496.3 L894.7 506.3 L898.0 506.3 L898.0 511.3 L900.5 519.7 L904.4 519.7 L904.4 522.2 L904.4 528.7 L906.1 542.1 L916.2 542.1 L916.2 554.8 L945.0 554.8 L945.0 573.3 L996.4 573.3 L996.4 628.1" fill="none" stroke="#bcd5e8" stroke-width="1.0" stroke-linejoin="miter" stroke-miterlimit="2" />
<path d="M855.5 427.2 L859.7 436.3 L864.7 451.3 L869.7 463.0 L874.7 473.0 L878.8 483.0 L883.0 496.3 L888.0 506.3 L891.3 518.0 L894.7 524.7 L897.4 524.7 L897.4 526.5 L899.6 536.3 L905.0 537.4 L907.2 548.3 L912.1 549.4 L912.1 555.9 L929.3 555.9 L929.3 572.2 L931.1 579.8 L991.6 579.8" fill="none" stroke="#fad8bd" stroke-width="1.0" stroke-linejoin="miter" stroke-miterlimit="2" />
<path d="M854.3 425.5 L857.2 433.0 L860.5 441.3 L863.0 441.3 L863.0 443.8 L865.5 443.8 L865.5 446.3 L868.0 446.3 L868.0 449.1 L872.6 449.1 L872.6 458.0 L874.9 458.0 L874.9 460.5 L877.2 460.5 L877.2 463.0 L878.8 471.3 L881.3 477.3 L891.1 477.3 L891.1 491.8 L893.8 491.8 L893.8 499.9 L897.4 499.9 L897.4 518.5 L998.0 518.5" fill="none" stroke="#339a34" stroke-width="2.3" stroke-linejoin="miter" stroke-miterlimit="2" />
<path d="M854.3 425.5 L858.0 436.3 L860.5 446.3 L863.8 461.3 L867.2 469.7 L870.5 479.7 L873.8 489.7 L878.8 500.5 L882.2 513.0 L887.0 524.7 L887.0 528.7 L889.8 540.7 L895.2 541.8 L897.4 552.6 L901.2 553.7 L901.2 563.7 L920.2 563.7 L922.4 573.6 L930.6 573.6 L930.6 579.0 L950.4 579.0 L950.4 587.4 L1062.3 587.4" fill="none" stroke="#d22c2e" stroke-width="2.3" stroke-linejoin="miter" stroke-miterlimit="2" />
</svg>
</body></html>
